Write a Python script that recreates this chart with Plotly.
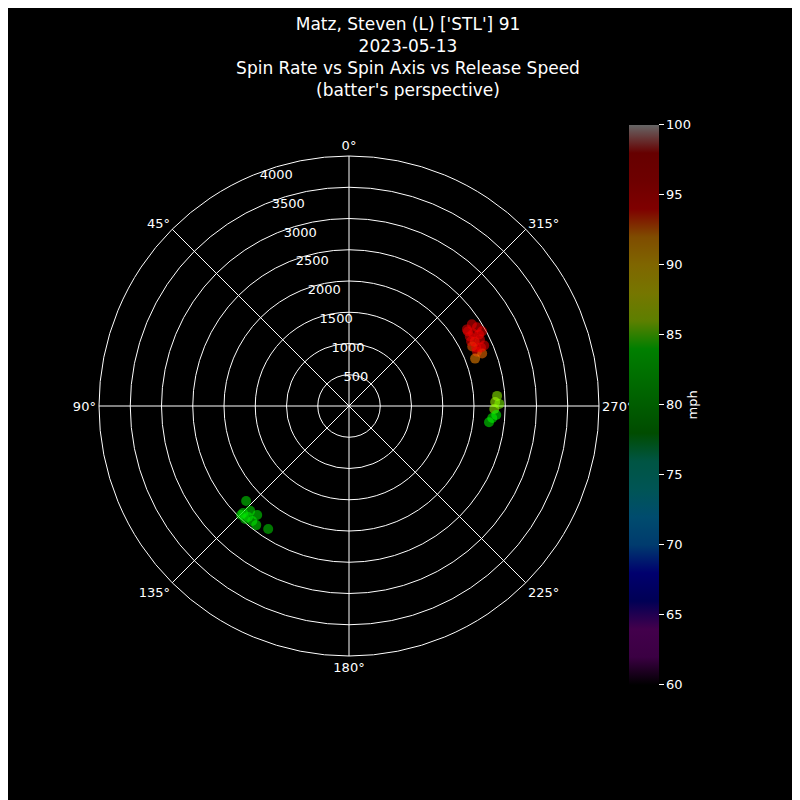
import plotly.graph_objects as go

# spin axis (deg), spin rate (rpm), release speed (mph)
spin_axis = [303.0, 303.6, 301.6, 299.3, 299.9, 297.1, 296.9, 294.1, 295.8, 293.0, 291.5, 290.6,
             302.1, 300.3, 298.8, 297.9, 294.7, 293.9,
             273.9, 271.6, 270.8, 268.8, 266.5, 265.2, 263.4,
             132.7, 135.3, 137.7, 139.9, 142.1, 136.7, 139.9, 137.4, 146.7, 135.3]
spin_rate = [2250, 2360, 2405, 2440, 2230, 2260, 2350, 2370, 2190, 2225, 2290, 2155,
             2245, 2300, 2375, 2210, 2240, 2310,
             2375, 2340, 2405, 2325, 2360, 2300, 2255,
             2240, 2410, 2400, 2405, 2415, 2305, 2280, 2455, 2355, 2455]
speed = [95.2, 95.5, 95.0, 94.8, 95.3, 93.5, 94.6, 95.1, 92.8, 94.9, 92.5, 92.2,
         95.4, 95.0, 94.7, 95.2, 94.9, 95.1,
         85.6, 85.8, 85.4, 85.6, 84.0, 83.6, 83.4,
         82.5, 82.8, 82.6, 82.9, 82.7, 82.5, 82.8, 82.3, 81.8, 82.9]

stops = [(0.0, (0, 0, 0)), (0.05, (0.4667, 0, 0.5333)), (0.10, (0.5333, 0, 0.6)),
         (0.15, (0, 0, 0.6667)), (0.20, (0, 0, 0.8667)), (0.25, (0, 0.4667, 0.8667)),
         (0.30, (0, 0.6, 0.8667)), (0.35, (0, 0.6667, 0.6667)), (0.40, (0, 0.6667, 0.5333)),
         (0.45, (0, 0.6, 0)), (0.50, (0, 0.7333, 0)), (0.55, (0, 0.8667, 0)),
         (0.60, (0, 1, 0)), (0.65, (0.7333, 1, 0)), (0.70, (0.9333, 0.9333, 0)),
         (0.75, (1, 0.8, 0)), (0.80, (1, 0.6, 0)), (0.85, (1, 0, 0)),
         (0.90, (0.8667, 0, 0)), (0.95, (0.8, 0, 0)), (1.0, (0.8, 0.8, 0.8))]


def scale(k):
    return [[p, f"rgb({int(r*255*k)},{int(g*255*k)},{int(b*255*k)})"] for p, (r, g, b) in stops]


fig = go.Figure()
fig.add_trace(go.Scatterpolar(
    theta=spin_axis, r=spin_rate, mode='markers',
    marker=dict(size=10, color=speed, colorscale=scale(1.0), cmin=60, cmax=100, opacity=0.55),
    showlegend=False))
# dummy trace just for the (dimmed) colorbar
fig.add_trace(go.Scatterpolar(
    theta=[0], r=[0], mode='markers',
    marker=dict(size=0.1, color=[60], colorscale=scale(0.5), cmin=60, cmax=100, opacity=0,
                colorbar=dict(x=0.764, xanchor='left', y=0.504, yanchor='middle', len=0.7,
                              lenmode='fraction', thickness=30, outlinewidth=0, ypad=0,
                              tickvals=[60, 65, 70, 75, 80, 85, 90, 95, 100],
                              ticks='outside', tickcolor='white', tickfont=dict(color='white', size=13),
                              title=dict(text='mph', side='right', font=dict(color='white', size=13)))),
    showlegend=False))

fig.update_layout(
    width=800, height=800, paper_bgcolor='black', plot_bgcolor='black',
    margin=dict(l=0, r=0, t=0, b=0),
    font=dict(family='DejaVu Sans', color='white', size=13),
    title=dict(text="Matz, Steven (L) ['STL'] 91<br>2023-05-13<br>Spin Rate vs Spin Axis vs Release Speed<br>(batter's perspective)",
               x=0.5, xanchor='center', y=0.973, yanchor='top', font=dict(size=17, color='white')),
    polar=dict(
        bgcolor='black', domain=dict(x=[0.11375, 0.73875], y=[0.19, 0.815]),
        angularaxis=dict(rotation=90, direction='counterclockwise', tickmode='array',
                         tickvals=[0, 45, 90, 135, 180, 225, 270, 315],
                         ticktext=['0°', '45°', '90°', '135°', '180°', '225°', '270°', '315°'],
                         gridcolor='white', linecolor='white', showline=True, ticks=''),
        radialaxis=dict(range=[0, 4000], tickvals=[500, 1000, 1500, 2000, 2500, 3000, 3500, 4000],
                        angle=112.5, tickangle=112.5, gridcolor='white', showline=False, ticks='',
                        tickfont=dict(color='white', size=13)),
    ),
)
fig.write_html("out.html")
